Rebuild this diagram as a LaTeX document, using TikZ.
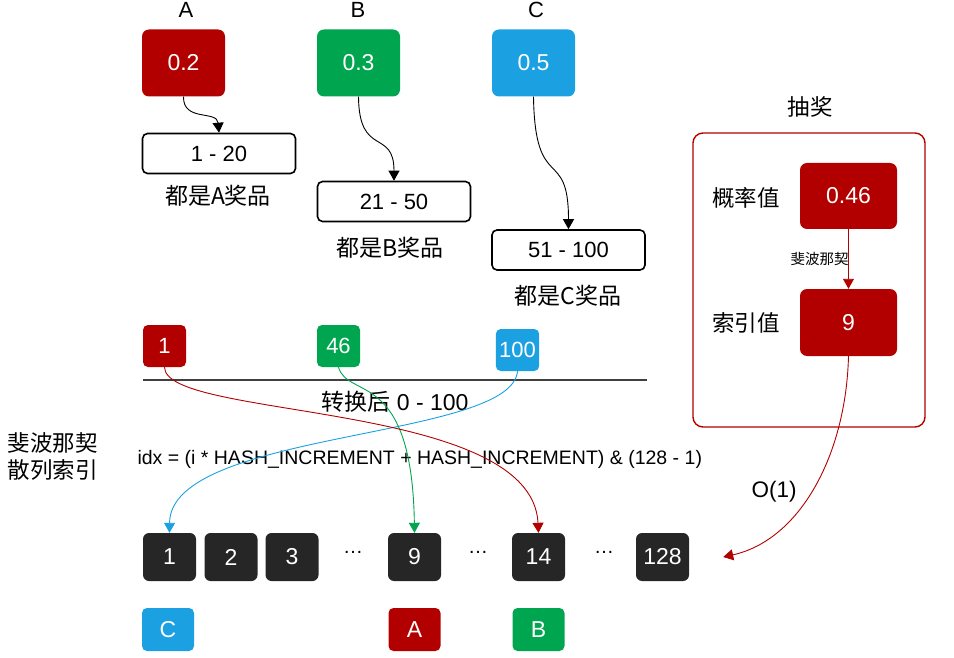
\documentclass[tikz,border=0pt]{standalone}
\usepackage{fontspec}
\setmainfont{Liberation Sans}
\newfontfamily\cjk{Noto Sans CJK SC}
\usetikzlibrary{arrows.meta, calc, positioning}

\definecolor{prizeRed}{HTML}{B20000}
\definecolor{prizeGreen}{HTML}{00A54F}
\definecolor{prizeBlue}{HTML}{1BA1E2}
\definecolor{slotDark}{HTML}{262626}

\begin{document}
\begin{tikzpicture}[
    x=1pt, y=-1pt,
    prob/.style={rounded corners=7pt, minimum width=83pt, minimum height=67pt, text=white, font=\fontsize{23}{23}\selectfont},
    rangebox/.style={draw, line width=1.6pt, rounded corners=5pt, minimum width=153pt, minimum height=40pt, font=\fontsize{22}{22}\selectfont},
    valbox/.style={rounded corners=5pt, minimum width=43pt, minimum height=42pt, text=white, font=\fontsize{22}{22}\selectfont},
    slot/.style={fill=slotDark, rounded corners=6pt, minimum width=53pt, minimum height=48pt, text=white, font=\fontsize{23}{23}\selectfont},
    tagbox/.style={rounded corners=5pt, minimum width=52pt, minimum height=43pt, text=white, font=\fontsize{23}{23}\selectfont},
    cn/.style={font=\cjk\fontsize{23}{23}\selectfont},
    flow/.style={-{Triangle[length=10pt, width=11pt]}, line width=0.9pt}
]
    \useasboundingbox (0,0) rectangle (954,658);

    % 1. Probabilidades A, B, C
    \node[font=\fontsize{22}{22}\selectfont] (la) at (186,10) {A};
    \node[font=\fontsize{22}{22}\selectfont] (lb) at (358,10) {B};
    \node[font=\fontsize{22}{22}\selectfont] (lc) at (536,10) {C};
    \node[prob, fill=prizeRed] (pa) at (183.5,63) {0.2};
    \node[prob, fill=prizeGreen] (pb) at (358.5,63) {0.3};
    \node[prob, fill=prizeBlue] (pc) at (533.5,63) {0.5};

    % 2. Intervalos
    \node[rangebox] (ra) at (219,153.5) {1 - 20};
    \node[cn] (na) at (218,196) {都是A奖品};
    \node[rangebox] (rb) at (394,201.5) {21 - 50};
    \node[cn] (nb) at (390,248) {都是B奖品};
    \node[rangebox] (rc) at (568.5,250) {51 - 100};
    \node[cn] (nc) at (568,296) {都是C奖品};

    \draw[flow] (pa.south) .. controls (183,122) and (217,110) .. (ra.north);
    \draw[flow] (pb.south) .. controls (359,158) and (394,128) .. (rb.north);
    \draw[flow] (pc.south) .. controls (535,195) and (568.5,145) .. (rc.north);

    % 3. Valores convertidos e linha
    \node[valbox, fill=prizeRed] (v1) at (164.5,346) {1};
    \node[valbox, fill=prizeGreen] (v46) at (338.5,346) {46};
    \node[valbox, fill=prizeBlue] (v100) at (517.5,350) {100};
    \coordinate (lineL) at (143,380);
    \coordinate (lineR) at (647,380);
    \draw[line width=1.6pt, black!75] (lineL) -- (lineR);
    \node[font=\fontsize{23}{23}\selectfont] (conv) at (395,402) {{\cjk 转换后} 0 - 100};

    % 4. Hash de Fibonacci
    \node[cn, font=\cjk\fontsize{22.5}{27}\selectfont, align=left] (fib) at (53,456.5) {斐波那契\\散列索引};
    \node[anchor=west, font=\fontsize{19.5}{19.5}\selectfont] (idx) at (134,459) {idx = (i * HASH\_INCREMENT + HASH\_INCREMENT) \& (128 - 1)};

    % 5. Tabela de indices
    \node[slot] (s1) at (169.5,557) {1};
    \node[slot] (s2) at (231,557) {2};
    \node[slot] (s3) at (292,557) {3};
    \node[font=\fontsize{20}{20}\selectfont] (d1) at (353,552) {…};
    \node[slot] (s9) at (414.5,557) {9};
    \node[font=\fontsize{20}{20}\selectfont] (d2) at (478,552) {…};
    \node[slot] (s14) at (538.5,557) {14};
    \node[font=\fontsize{20}{20}\selectfont] (d3) at (604,552) {…};
    \node[slot] (s128) at (662.5,557) {128};

    \node[tagbox, fill=prizeBlue] (tc) at (168,629.5) {C};
    \node[tagbox, fill=prizeRed] (ta) at (414.5,629.5) {A};
    \node[tagbox, fill=prizeGreen] (tb) at (538.5,629.5) {B};

    \draw[flow, prizeBlue] (v100.south) .. controls (512,440) and (170,430) .. (s1.north);
    \draw[flow, prizeGreen] (v46.south) .. controls (348,400) and (412,368) .. (s9.north);
    \draw[flow, prizeRed] (v1.south) .. controls (165,420) and (532,400) .. (s14.north);

    % 6. Sorteio
    \node[cn, font=\cjk\fontsize{22.5}{22.5}\selectfont] (lottery) at (810,107) {抽奖};
    \coordinate (boxNW) at (693,133);
    \coordinate (boxSE) at (925,427);
    \draw[prizeRed, line width=1.4pt, rounded corners=10pt] (boxNW) rectangle (boxSE);
    \node[prob, fill=prizeRed, minimum width=97pt, minimum height=66pt] (p46) at (848.5,196) {0.46};
    \node[prob, fill=prizeRed, minimum width=97pt, minimum height=67pt] (i9) at (848.5,322.5) {9};
    \node[cn, font=\cjk\fontsize{22.5}{22.5}\selectfont] (plabel) at (746,198) {概率值};
    \node[cn, font=\cjk\fontsize{22.5}{22.5}\selectfont] (ilabel) at (746,323) {索引值};
    \draw[flow, prizeRed] (p46.south) -- node[left, font=\cjk\fontsize{14.5}{14.5}\selectfont, text=black, xshift=4pt] {斐波那契} (i9.north);

    \coordinate (o1end) at ($(s128.east)+(34,0)$);
    \draw[flow, prizeRed] (i9.south) .. controls (846,455) and (800,540) .. (o1end);
    \node[font=\fontsize{22.5}{22.5}\selectfont] (o1) at (774,492) {O(1)};
\end{tikzpicture}
\end{document}
